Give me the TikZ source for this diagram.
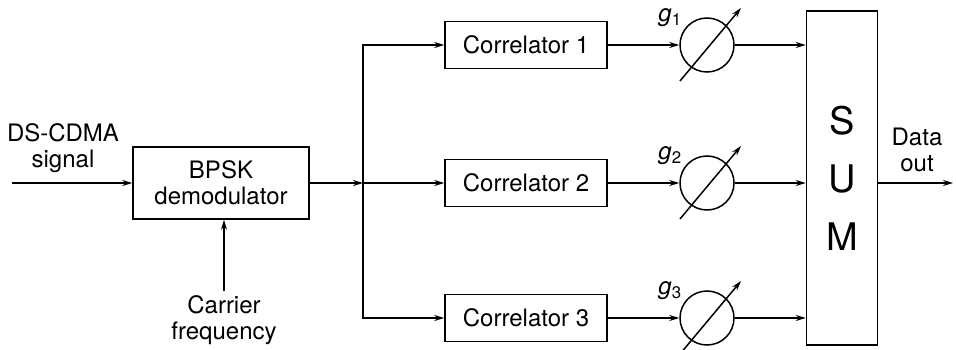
\documentclass[tikz,border=0pt]{standalone}
\usepackage{fontspec}
\setmainfont{TeX Gyre Heros}
\usetikzlibrary{arrows.meta, positioning, calc}

\tikzset{
  blk/.style={draw, line width=1.5pt, inner sep=0pt, align=center},
  gain/.style={draw, circle, line width=1.5pt, minimum size=54pt, inner sep=0pt},
  sig/.style={line width=1.5pt, -{Stealth[length=10pt, width=6pt]}},
  lbl/.style={align=center, inner sep=0pt},
}

\begin{document}
\begin{tikzpicture}[x=1pt, y=-1pt, font=\fontsize{24}{26}\selectfont]
  \useasboundingbox (0,0) rectangle (956,350);

  % demodulator with signal and carrier inputs
  \node[blk, minimum width=176pt, minimum height=72pt] (bpsk) at (221,183) {BPSK\\demodulator};
  \coordinate (in) at (12,183);
  \node[lbl] (dscdma) at (63,148) {DS-CDMA\\signal};
  \node[lbl, anchor=north] (carrier) at (224,295) {Carrier\\frequency};
  \draw[sig] (in) -- (bpsk.west);
  \draw[sig] ([yshift=4pt]carrier.north) -- (carrier.north |- bpsk.south);

  % adder
  \node[blk, minimum width=71pt, minimum height=334pt, font=\fontsize{38}{58}\selectfont] (sum) at (842,178) {S\\U\\M};

  % branch point
  \coordinate (split) at (363,183);
  \draw[sig] (bpsk.east) -- (split);

  % three correlator / gain branches
  \foreach \i/\y in {1/45, 2/183, 3/318} {
    \node[blk, minimum width=162pt, minimum height=47pt] (corr\i) at (526,\y) {Correlator \i};
    \node[gain] (gain\i) at (707,\y) {};
    \draw[sig] ([shift={(-27,36)}]gain\i.center) -- ([shift={(34,-37)}]gain\i.center);
    \node[lbl] (g\i) at ([shift={(-37,-27)}]gain\i.center) {\textit{g}\textsubscript{\i}};
    \draw[sig] (split) |- (corr\i.west);
    \draw[sig] (corr\i) -- (gain\i);
    \draw[sig] (gain\i) -- (gain\i -| sum.west);
  }

  % output
  \coordinate (out) at (953,183);
  \node[lbl] (data) at (917,150) {Data\\out};
  \draw[sig] (sum.east |- out) -- (out);
\end{tikzpicture}
\end{document}
